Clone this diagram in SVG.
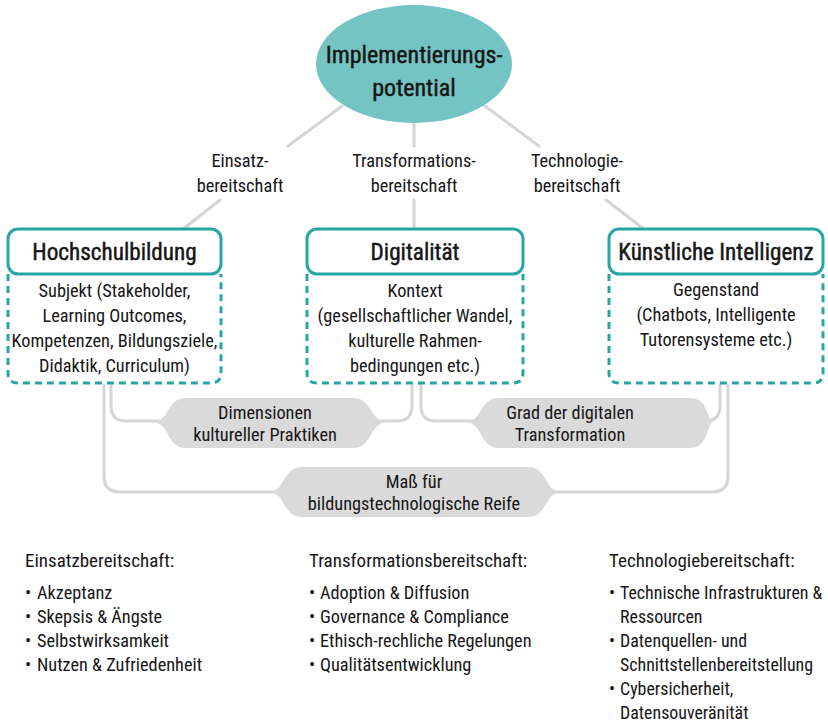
<svg xmlns="http://www.w3.org/2000/svg" width="828" height="723" viewBox="0 0 828 723">
<style>
text{font-family:"Liberation Sans Narrow","Roboto Condensed","DejaVu Sans Condensed",sans-serif;fill:#161616}
.c{text-anchor:middle}
.t17{font-size:18.3px}
.r{font-size:17.9px}
.bh{font-size:19px}
.hd{font-size:23.2px;stroke:#161616;stroke-width:0.45}
.el{font-size:24px;stroke:#161616;stroke-width:0.45}
.line{fill:none;stroke:#d5d5d5;stroke-width:3;stroke-linecap:round}
.hbox{fill:#fff;stroke:#26a5a5;stroke-width:3}
.dbox{fill:none;stroke:#26a5a5;stroke-width:3;stroke-dasharray:7 5}
.pill{fill:#dadada}
</style>
<g id="connectors">
<line class="line" x1="342" y1="106" x2="288" y2="146"/>
<line class="line" x1="220" y1="200" x2="183" y2="229"/>
<line class="line" x1="414" y1="122" x2="414" y2="146"/>
<line class="line" x1="414" y1="200" x2="414" y2="229"/>
<line class="line" x1="485" y1="106" x2="539" y2="146"/>
<line class="line" x1="606" y1="200" x2="644" y2="229"/>
<path class="line" d="M111,385 V406 Q111,421 126,421 H397 Q412,421 412,406 V385"/>
<path class="line" d="M421,385 V406 Q421,421 436,421 H705 Q720,421 720,406 V385"/>
<path class="line" d="M104,385 V476 Q104,492 120,492 H712 Q728,492 728,476 V385"/>
</g>
<g id="implementierungspotential">
<ellipse cx="414" cy="64" rx="98" ry="59" fill="#73c4c3"/>
<text class="el c" x="414" y="63">Implementierungs-</text>
<text class="el c" x="414" y="96">potential</text>
</g>
<g id="label-einsatz">
<text class="t17 c" x="240" y="167">Einsatz-</text>
<text class="t17 c" x="240" y="192">bereitschaft</text>
</g>
<g id="label-transformation">
<text class="t17 c" x="414" y="167">Transformations-</text>
<text class="t17 c" x="414" y="192">bereitschaft</text>
</g>
<g id="label-technologie">
<text class="t17 c" x="577" y="167">Technologie-</text>
<text class="t17 c" x="577" y="192">bereitschaft</text>
</g>
<g id="hochschulbildung">
<path class="dbox" d="M8,274 V373 Q8,383 18,383 H211 Q221,383 221,373 V274"/>
<rect class="hbox" x="8" y="229" width="213" height="45" rx="10"/>
<text class="hd c" x="114.5" y="260">Hochschulbildung</text>
<text class="t17 c" x="114.5" y="297">Subjekt (Stakeholder,</text>
<text class="t17 c" x="114.5" y="322">Learning Outcomes,</text>
<text class="t17 c" x="114.5" y="347">Kompetenzen, Bildungsziele,</text>
<text class="t17 c" x="114.5" y="372">Didaktik, Curriculum)</text>
</g>
<g id="digitalitaet">
<path class="dbox" d="M307,274 V373 Q307,383 317,383 H513 Q523,383 523,373 V274"/>
<rect class="hbox" x="307" y="229" width="216" height="45" rx="10"/>
<text class="hd c" x="415" y="260">Digitalität</text>
<text class="t17 c" x="415" y="297">Kontext</text>
<text class="t17 c" x="415" y="322">(gesellschaftlicher Wandel,</text>
<text class="t17 c" x="415" y="347">kulturelle Rahmen-</text>
<text class="t17 c" x="415" y="372">bedingungen etc.)</text>
</g>
<g id="kuenstliche-intelligenz">
<path class="dbox" d="M609,274 V373 Q609,383 619,383 H813 Q823,383 823,373 V274"/>
<rect class="hbox" x="609" y="229" width="214" height="45" rx="10"/>
<text class="hd c" x="716" y="260">Künstliche Intelligenz</text>
<text class="t17 c" x="716" y="296">Gegenstand</text>
<text class="t17 c" x="716" y="321">(Chatbots, Intelligente</text>
<text class="t17 c" x="716" y="346">Tutorensysteme etc.)</text>
</g>
<g id="dimensionen">
<path class="pill" d="M152,422 C170,422 166,398 186,398 H353 C373,398 369,422 388,422 C369,422 373,448 353,448 H186 C166,448 170,422 152,422 Z"/>
<text class="t17 c" x="265" y="419">Dimensionen</text>
<text class="t17 c" x="265" y="441">kultureller Praktiken</text>
</g>
<g id="grad">
<path class="pill" d="M465,422 C483,422 479,398 499,398 H690 C710,398 706,422 714,422 C706,422 710,448 690,448 H499 C479,448 483,422 465,422 Z"/>
<text class="t17 c" x="570" y="419">Grad der digitalen</text>
<text class="t17 c" x="570" y="441">Transformation</text>
</g>
<g id="mass">
<path class="pill" d="M268,492 C286,492 282,467 302,467 H528 C548,467 544,492 562,492 C544,492 548,517 528,517 H302 C282,517 286,492 268,492 Z"/>
<text class="t17 c" x="414" y="488">Maß für</text>
<text class="t17 c" x="414" y="510">bildungstechnologische Reife</text>
</g>
<g id="liste-einsatz">
<text class="bh" x="25" y="567">Einsatzbereitschaft:</text>
<text class="t17" x="25" y="599">•</text><text class="t17" x="37" y="599">Akzeptanz</text>
<text class="t17" x="25" y="623">•</text><text class="t17" x="37" y="623">Skepsis &amp; Ängste</text>
<text class="t17" x="25" y="647">•</text><text class="t17" x="37" y="647">Selbstwirksamkeit</text>
<text class="t17" x="25" y="671">•</text><text class="t17" x="37" y="671">Nutzen &amp; Zufriedenheit</text>
</g>
<g id="liste-transformation">
<text class="bh" x="309" y="567">Transformationsbereitschaft:</text>
<text class="t17" x="309" y="599">•</text><text class="t17" x="320" y="599">Adoption &amp; Diffusion</text>
<text class="t17" x="309" y="623">•</text><text class="t17" x="320" y="623">Governance &amp; Compliance</text>
<text class="t17" x="309" y="647">•</text><text class="t17" x="320" y="647">Ethisch-rechliche Regelungen</text>
<text class="t17" x="309" y="671">•</text><text class="t17" x="320" y="671">Qualitätsentwicklung</text>
</g>
<g id="liste-technologie">
<text class="bh" x="609" y="567">Technologiebereitschaft:</text>
<text class="r" x="609" y="599">•</text><text class="r" x="620" y="599">Technische Infrastrukturen &amp;</text>
<text class="r" x="620" y="623">Ressourcen</text>
<text class="r" x="609" y="647">•</text><text class="r" x="620" y="647">Datenquellen- und</text>
<text class="r" x="620" y="671">Schnittstellenbereitstellung</text>
<text class="r" x="609" y="695">•</text><text class="r" x="620" y="695">Cybersicherheit,</text>
<text class="r" x="620" y="719">Datensouveränität</text>
</g>
</svg>
